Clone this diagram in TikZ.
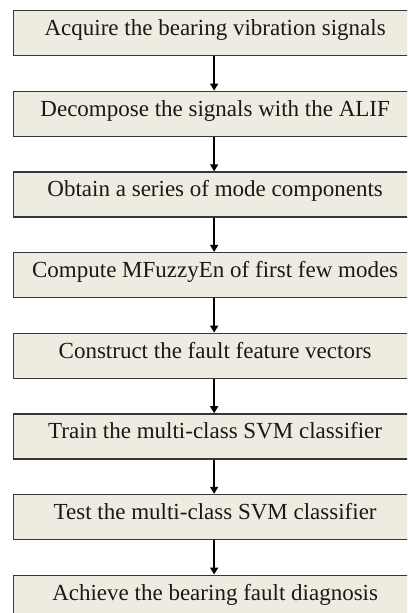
\documentclass[tikz,border=0pt]{standalone}
\usepackage{fontspec}
\setmainfont{Liberation Serif}
\usetikzlibrary{arrows.meta}

\definecolor{boxfill}{RGB}{238,235,224}
\definecolor{boxline}{RGB}{55,55,55}

\tikzset{
  stepbox/.style={draw=boxline, fill=boxfill, line width=1.3pt,
    minimum width=403pt, minimum height=45pt, inner sep=0pt,
    text height=13pt, text depth=8pt, anchor=north west,
    font=\fontsize{23}{27}\selectfont, text=black!90},
  flow/.style={draw=black, line width=1.4pt,
    -{Triangle[length=7pt,width=8pt]}}
}

\begin{document}
\begin{tikzpicture}[x=1pt,y=-1pt]
  \useasboundingbox (0,0) rectangle (407,613);
  \clip (0,0) rectangle (407,613);
  \fill[white] (0,0) rectangle (407,613);

  % process steps, top to bottom
  \node[stepbox] (s1) at (13,10)    {Acquire the bearing vibration signals};
  \node[stepbox] (s2) at (13,90.6)  {Decompose the signals with the ALIF};
  \node[stepbox] (s3) at (13,171.3) {Obtain a series of mode components};
  \node[stepbox] (s4) at (13,251.9) {Compute MFuzzyEn of first few modes};
  \node[stepbox] (s5) at (13,332.6) {Construct the fault feature vectors};
  \node[stepbox] (s6) at (13,413.2) {Train the multi-class SVM classifier};
  \node[stepbox] (s7) at (13,493.8) {Test the multi-class SVM classifier};
  \node[stepbox] (s8) at (13,574.5) {Achieve the bearing fault diagnosis};

  % connectors between consecutive steps
  \foreach \a/\b in {s1/s2,s2/s3,s3/s4,s4/s5,s5/s6,s6/s7,s7/s8}
    \draw[flow] ([xshift=-1pt]\a.south) -- ([xshift=-1pt]\b.north);
\end{tikzpicture}
\end{document}
